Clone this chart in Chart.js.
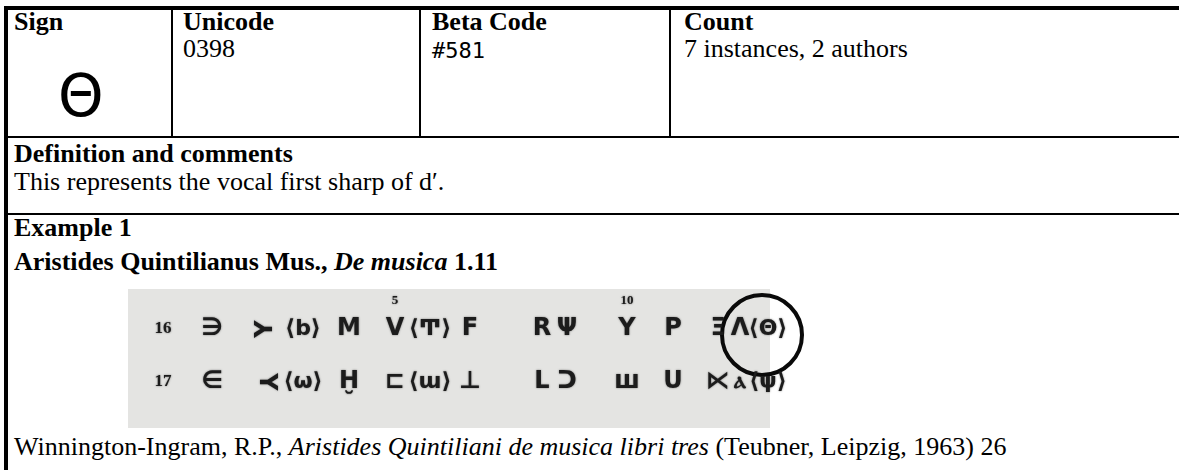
<!DOCTYPE html>
<html>
<head>
<meta charset="utf-8">
<script src="https://cdn.jsdelivr.net/npm/chart.js@4"></script>
<style>
  html, body { margin: 0; padding: 0; background: #fff; }
  body { width: 1179px; height: 470px; position: relative; overflow: hidden;
         font-family: "Liberation Serif", "Times New Roman", serif; color: #000; }
  .rule { position: absolute; background: #000; }
  .txt { position: absolute; font-size: 26px; line-height: 30px; white-space: nowrap; }
  .b { font-weight: bold; }
  .mono { font-family: "DejaVu Sans Mono", monospace; font-size: 22px; }
  #sign { position: absolute; left: 58px; top: 64px; font-family: "DejaVu Sans", sans-serif;
          font-size: 58px; line-height: 64px; }
  #scanBox { position: absolute; left: 128px; top: 286px; width: 720px; height: 145px; }
</style>
</head>
<body>

<!-- рамки таблицы -->
<div class="rule" style="left:4px; top:6px; width:1175px; height:4px"></div>
<div class="rule" style="left:4px; top:6px; width:4px; height:464px"></div>
<div class="rule" style="left:171px; top:10px; width:2px; height:126px"></div>
<div class="rule" style="left:419px; top:10px; width:2px; height:126px"></div>
<div class="rule" style="left:669px; top:10px; width:2px; height:126px"></div>
<div class="rule" style="left:4px; top:136px; width:1175px; height:2px"></div>
<div class="rule" style="left:4px; top:213px; width:1175px; height:2px"></div>

<!-- шапка -->
<div class="txt b" style="left:14px; top:7px">Sign</div>
<div id="sign">Θ</div>
<div class="txt b" style="left:183px; top:7px">Unicode</div>
<div class="txt" style="left:183px; top:34px">0398</div>
<div class="txt b" style="left:432px; top:7px">Beta Code</div>
<div class="txt mono" style="left:432px; top:36px">#581</div>
<div class="txt b" style="left:684px; top:7px">Count</div>
<div class="txt" style="left:684px; top:34px">7 instances, 2 authors</div>

<div class="txt b" style="left:14px; top:139px">Definition and comments</div>
<div class="txt" style="left:14px; top:167px">This represents the vocal first sharp of d′.</div>

<div class="txt b" style="left:14px; top:213px">Example 1</div>
<div class="txt b" style="left:14px; top:247px">Aristides Quintilianus Mus., <i>De musica</i> 1.11</div>

<div id="scanBox"><canvas id="scan"></canvas></div>

<div class="txt" style="left:14px; top:432px">Winnington-Ingram, R.P., <i>Aristides Quintiliani de musica libri tres</i> (Teubner, Leipzig, 1963) 26</div>

<script>
//------------данные: строки 16 и 17 из рукописи--------------------

const lineNumbers = ['16', '17'];
const glyphColumns = [35, 84, 138, 175, 221, 267, 302, 342, 414, 439, 499, 545, 590, 612, 640];
const row16 = ['16', '∋', 'Y', '⟨b⟩', 'M', 'V', '⟨Ͳ⟩', 'F', 'R', 'Ψ', 'Υ', 'P', 'Ξ', 'Λ', '⟨Θ⟩'];
const row17 = ['17', '∈', 'Y', '⟨ω⟩', 'Ḫ', '⊏', '⟨ɯ⟩', '⊥', 'L', 'ᑐ', 'ш', 'U', '⋉', 'ⲁ', '⟨ψ⟩'];
const row16Turn = [0, 0, -90, 0, 0, 0, 0, 0, 0, 0, 0, 0, 0, 0, 0];
const row17Turn = [0, 0, 90, 0, 0, 0, 0, 0, 0, 0, 0, 0, 0, 0, 0];
const rowLevels = [43, 96];
const verseMarks = ['5', '10'];
const verseColumns = [267, 499];
const verseLevel = 15;
const scanWidth = 642;
const circledSign = [{x: 634, y: 49, r: 40}];

//------------рисуем подписи знаков--------------------

const glyphPlugin = {
  id: 'glyphs',
  beforeDraw(chart) {
    const {ctx, scales: {x, y}} = chart;
    ctx.save();
    ctx.fillStyle = '#e4e4e2';
    const left = x.getPixelForValue(0), right = x.getPixelForValue(scanWidth);
    const top = y.getPixelForValue(3), bottom = y.getPixelForValue(142);
    ctx.fillRect(left, top, right - left, bottom - top);
    ctx.restore();
  },
  afterDatasetsDraw(chart) {
    const ctx = chart.ctx;
    chart.data.datasets.forEach((ds, i) => {
      if (!ds.glyphs) return;
      const meta = chart.getDatasetMeta(i);
      meta.data.forEach((pt, j) => {
        const label = ds.glyphs[j];
        ctx.save();
        ctx.translate(pt.x, pt.y);
        if (ds.turns && ds.turns[j]) ctx.rotate(ds.turns[j] * Math.PI / 180);
        ctx.fillStyle = '#1c1c1c';
        ctx.textAlign = 'center';
        ctx.textBaseline = 'middle';
        if (ds.small || j === 0) {
          ctx.font = 'bold ' + (ds.small ? 13 : 17) + 'px "Liberation Serif"';
        } else if (label.length > 1) {
          ctx.font = 'bold 22px "DejaVu Sans"';
        } else {
          ctx.font = 'bold 24px "DejaVu Sans"';
        }
        ctx.shadowColor = 'rgba(0,0,0,0.5)';
        ctx.shadowBlur = 2;
        ctx.fillText(label, 0, 0);
        ctx.restore();
      });
    });
  }
};

function rowData(level) {
  return glyphColumns.map(c => ({x: c, y: level}));
}

const ctx = document.getElementById('scan').getContext('2d');

new Chart(ctx, {
  type: 'scatter',
  data: {
    datasets: [
      {label: lineNumbers[0], data: rowData(rowLevels[0]), glyphs: row16, turns: row16Turn, pointRadius: 0},
      {label: lineNumbers[1], data: rowData(rowLevels[1]), glyphs: row17, turns: row17Turn, pointRadius: 0},
      {label: 'verse', data: verseColumns.map(c => ({x: c, y: verseLevel})), glyphs: verseMarks, small: true, pointRadius: 0},
      {
        type: 'bubble',
        label: 'circle',
        data: circledSign,
        backgroundColor: 'rgba(0,0,0,0)',
        borderColor: '#0a0a0a',
        borderWidth: 4,
        clip: false
      }
    ]
  },
  options: {
    responsive: true,
    maintainAspectRatio: false,
    animation: false,
    events: [],
    layout: {padding: 0, autoPadding: false},
    plugins: {legend: {display: false}, tooltip: {enabled: false}},
    scales: {
      x: {type: 'linear', min: 0, max: 720, display: false},
      y: {type: 'linear', min: 0, max: 145, reverse: true, display: false}
    }
  },
  plugins: [glyphPlugin]
});
</script>
</body>
</html>
